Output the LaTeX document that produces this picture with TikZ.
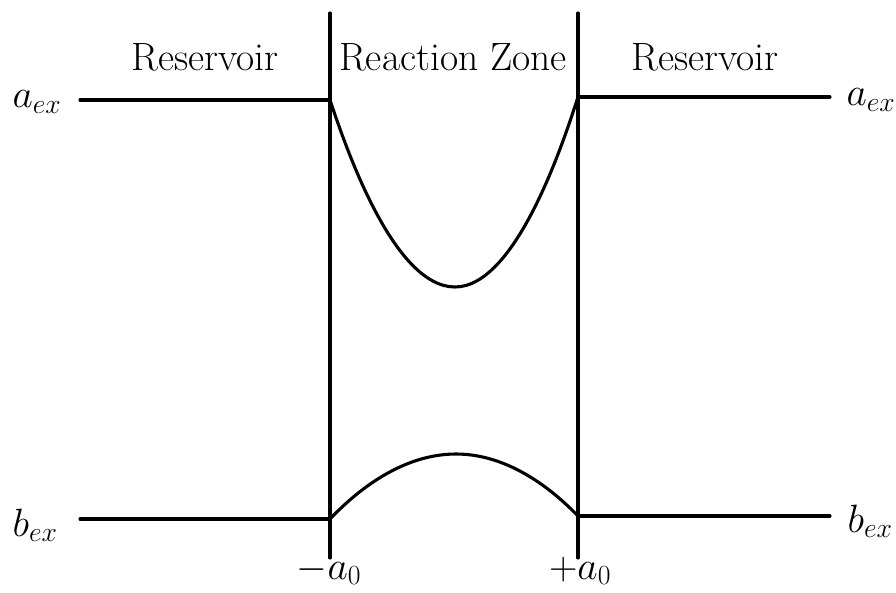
\RequirePackage{fix-cm}
\documentclass[tikz,border=0pt]{standalone}
\begin{document}
\begin{tikzpicture}[x=1pt,y=-1pt,
  curve/.style={line width=3.1pt,line cap=round,line join=round},
  lbl/.style={anchor=base,inner sep=0pt,font=\fontsize{39.5}{46}\selectfont}]
\useasboundingbox (0,0) rectangle (896,593);
% coordinates
\coordinate (LT) at (330,13);
\coordinate (LB) at (330,558);
\coordinate (RT) at (578,13);
\coordinate (RB) at (578,558);
\coordinate (LA) at (330,100);
\coordinate (RA) at (578,97);
\coordinate (LBj) at (330,519);
\coordinate (RBj) at (578,516);
\coordinate (LAend) at (80,100);
\coordinate (RAend) at (830,97);
\coordinate (LBend) at (80,519);
\coordinate (RBend) at (830,516);
\coordinate (Amin) at (455,287);
\coordinate (Bmax) at (456,454);
% vertical boundaries
\draw[curve] (LT) -- (LB);
\draw[curve] (RT) -- (RB);
% reservoir levels
\draw[curve] (LAend) -- (LA);
\draw[curve] (RA) -- (RAend);
\draw[curve] (LBend) -- (LBj);
\draw[curve] (RBj) -- (RBend);
% reaction-zone profiles
\draw[curve] (LA) parabola bend (Amin) (RA);
\draw[curve] (LBj) parabola bend (Bmax) (RBj);
% labels
\node[lbl] (res1) at (205,71) {Reservoir};
\node[lbl] (rz) at (453,71) {Reaction Zone};
\node[lbl] (res2) at (705,71) {Reservoir};
\node[lbl] (aexL) at (37,108) {$a_{ex}$};
\node[lbl] (aexR) at (871,106) {$a_{ex}$};
\node[lbl] (bexL) at (35,536) {$b_{ex}$};
\node[lbl] (bexR) at (870,532) {$b_{ex}$};
\node[lbl] (am) at (329,579) {$-a_0$};
\node[lbl] (ap) at (580,579) {$+a_0$};
\end{tikzpicture}
\end{document}
